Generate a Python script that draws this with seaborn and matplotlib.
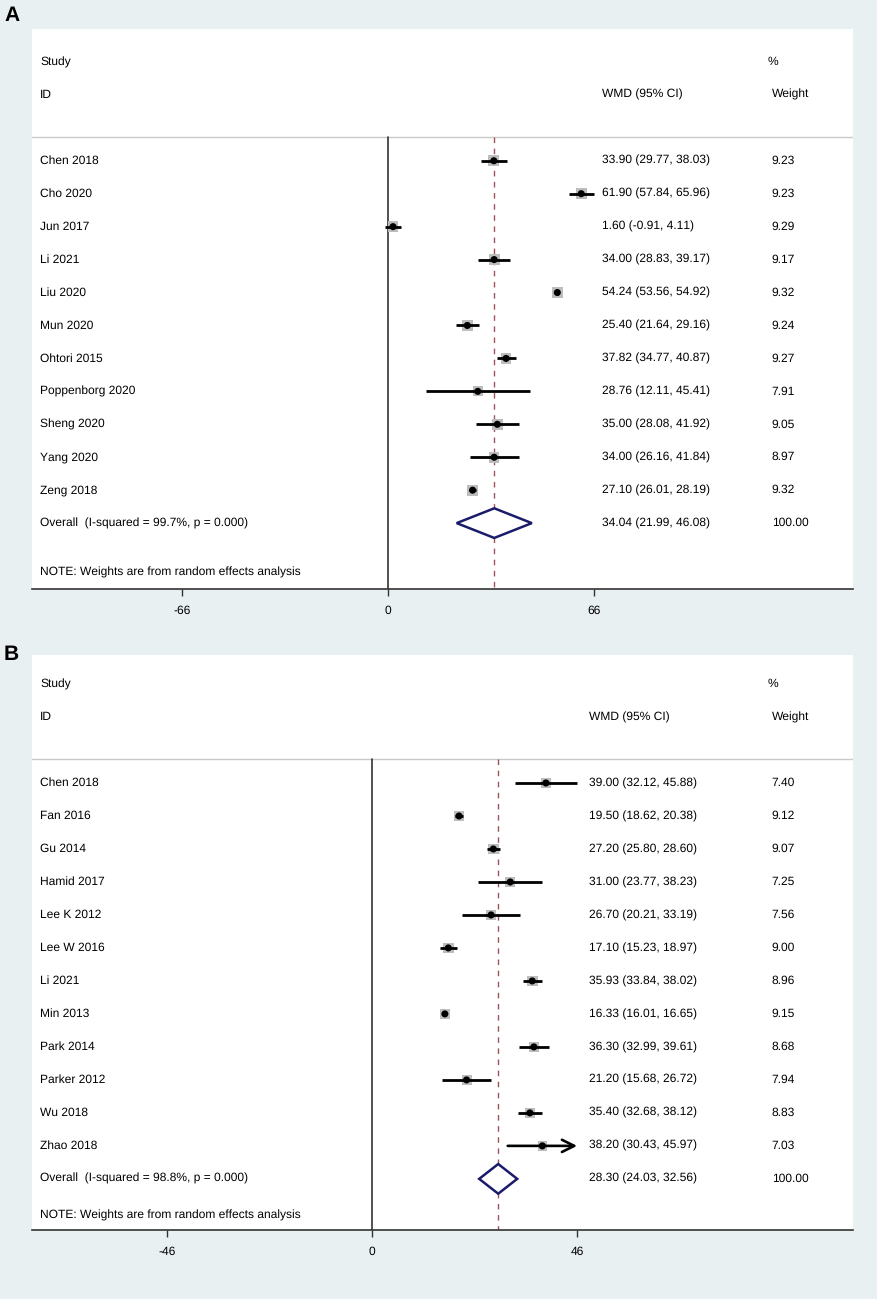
import matplotlib.pyplot as plt
import numpy as np
import pandas as pd
import seaborn as sns

# ---- panel A data ----
studies_a = ["Chen 2018", "Cho 2020", "Jun 2017", "Li 2021", "Liu 2020", "Mun 2020",
             "Ohtori 2015", "Poppenborg 2020", "Sheng 2020", "Yang 2020", "Zeng 2018"]
est_a = [33.90, 61.90, 1.60, 34.00, 54.24, 25.40, 37.82, 28.76, 35.00, 34.00, 27.10]
lo_a = [29.77, 57.84, -0.91, 28.83, 53.56, 21.64, 34.77, 12.11, 28.08, 26.16, 26.01]
hi_a = [38.03, 65.96, 4.11, 39.17, 54.92, 29.16, 40.87, 45.41, 41.92, 41.84, 28.19]
wt_a = [9.23, 9.23, 9.29, 9.17, 9.32, 9.24, 9.27, 7.91, 9.05, 8.97, 9.32]
overall_a = [34.04, 21.99, 46.08]
isq_a = "99.7%"
ticks_a = [-66, 0, 66]
arrow_a = [False] * 11

# ---- panel B data ----
studies_b = ["Chen 2018", "Fan 2016", "Gu 2014", "Hamid 2017", "Lee K 2012", "Lee W 2016",
             "Li 2021", "Min 2013", "Park 2014", "Parker 2012", "Wu 2018", "Zhao 2018"]
est_b = [39.00, 19.50, 27.20, 31.00, 26.70, 17.10, 35.93, 16.33, 36.30, 21.20, 35.40, 38.20]
lo_b = [32.12, 18.62, 25.80, 23.77, 20.21, 15.23, 33.84, 16.01, 32.99, 15.68, 32.68, 30.43]
hi_b = [45.88, 20.38, 28.60, 38.23, 33.19, 18.97, 38.02, 16.65, 39.61, 26.72, 38.12, 45.97]
wt_b = [7.40, 9.12, 9.07, 7.25, 7.56, 9.00, 8.96, 9.15, 8.68, 7.94, 8.83, 7.03]
overall_b = [28.30, 24.03, 32.56]
isq_b = "98.8%"
ticks_b = [-46, 0, 46]
arrow_b = [False] * 11 + [True]

BG = "#e9f0f2"
TXT = "#000000"

sns.set_style("white")
plt.rcParams["font.family"] = ["Liberation Sans", "DejaVu Sans"]
plt.rcParams["text.hinting"] = "no_hinting"
plt.rcParams["text.hinting_factor"] = 1


def forest(ax, studies, est, lo, hi, wt, overall, isq, ticks, arrows,
           xlim, top, bottom, note_y, wmd_x, wt_x=0.901, pct_x=0.896):
    n = len(studies)
    rows = np.arange(n)
    df = pd.DataFrame({"study": studies, "est": est, "lo": lo, "hi": hi, "wt": wt, "row": rows})
    hline_y = -0.73
    trans = ax.get_yaxis_transform()

    ax.set_xlim(*xlim)
    ax.set_ylim(bottom, top)
    ax.set_facecolor("white")

    # header separator + reference lines
    ax.axhline(hline_y, color="#c9c9c9", lw=1.0)
    ax.plot([0, 0], [hline_y, bottom], color="#333333", lw=1.2)
    ax.plot([overall[0]] * 2, [hline_y, bottom], color="#a0525c", lw=1.0, dashes=(4, 4))

    # weight boxes
    sns.scatterplot(data=df, x="est", y="row", s=df["wt"] * 6.5, marker="s",
                    color="#bdbdbd", edgecolor="none", ax=ax, zorder=3, legend=False)
    # confidence intervals
    for _, r in df.iterrows():
        if arrows[int(r["row"])]:
            ax.annotate("", xy=(ticks[-1], r["row"]), xytext=(r["lo"], r["row"]),
                        arrowprops=dict(arrowstyle="->", lw=1.9, color="black",
                                        mutation_scale=22, shrinkA=0, shrinkB=0),
                        zorder=4)
        else:
            ax.plot([r["lo"], r["hi"]], [r["row"], r["row"]], color="black", lw=2.0,
                    solid_capstyle="butt", zorder=4)
    # point estimates
    sns.scatterplot(data=df, x="est", y="row", s=26, marker="o", color="black",
                    edgecolor="none", ax=ax, zorder=5, legend=False)

    # overall diamond
    h = 0.45
    ax.fill([overall[1], overall[0], overall[2], overall[0], overall[1]],
            [n, n - h, n, n + h, n], facecolor="white", edgecolor="#1b1b6b", lw=1.8, zorder=5)

    # text columns
    fs = 8.6
    kw = dict(transform=trans, fontsize=fs, color=TXT, va="center")
    ax.text(0.010, -3, "Study", **kw)
    ax.text(0.010, -2, "ID", **kw)
    ax.text(pct_x, -3, "%", **kw)
    ax.text(wmd_x, -2, "WMD (95% CI)", **kw)
    ax.text(wt_x, -2, "Weight", **kw)
    for i in range(n):
        ax.text(0.010, i, studies[i], **kw)
        ax.text(wmd_x, i, f"{est[i]:.2f} ({lo[i]:.2f}, {hi[i]:.2f})", **kw)
        ax.text(wt_x, i, f"{wt[i]:.2f}", **kw)
    ax.text(0.010, n, f"Overall  (I-squared = {isq}, p = 0.000)", **kw)
    ax.text(wmd_x, n, f"{overall[0]:.2f} ({overall[1]:.2f}, {overall[2]:.2f})", **kw)
    ax.text(wt_x, n, "100.00", **kw)
    ax.text(0.010, note_y, "NOTE: Weights are from random effects analysis", **kw)

    # axis styling
    for side in ["top", "left", "right"]:
        ax.spines[side].set_visible(False)
    ax.spines["bottom"].set_color("#333333")
    ax.spines["bottom"].set_linewidth(1.2)
    ax.set_xticks(ticks)
    ax.set_xticklabels([str(t) for t in ticks])
    ax.set_yticks([])
    ax.tick_params(axis="x", direction="out", length=5, width=1, color="#333333",
                   labelsize=fs, labelcolor=TXT, pad=7, bottom=True)
    ax.set_xlabel("")
    ax.set_ylabel("")


fig = plt.figure(figsize=(8.78, 12.99), dpi=100, facecolor=BG)
W, H = 878, 1299

ax_a = fig.add_axes([32 / W, 1 - 589 / H, 821 / W, 560 / H])
ax_b = fig.add_axes([32 / W, 1 - 1230 / H, 821 / W, 575 / H])

forest(ax_a, studies_a, est_a, lo_a, hi_a, wt_a, overall_a, isq_a, ticks_a, arrow_a,
       xlim=(-114.1, 149.0), top=-4.0, bottom=13.0, note_y=12.5, wmd_x=0.694)
forest(ax_b, studies_b, est_b, lo_b, hi_b, wt_b, overall_b, isq_b, ticks_b, arrow_b,
       xlim=(-76.3, 107.9), top=-3.88, bottom=13.55, note_y=13.1, wmd_x=0.678)

fig.text(4 / W, 1 - 16 / H, "A", fontsize=15, fontweight="bold", color="black", va="center")
fig.text(4 / W, 1 - 655 / H, "B", fontsize=15, fontweight="bold", color="black", va="center")

fig.savefig("out.png", dpi=100, facecolor=fig.get_facecolor())
